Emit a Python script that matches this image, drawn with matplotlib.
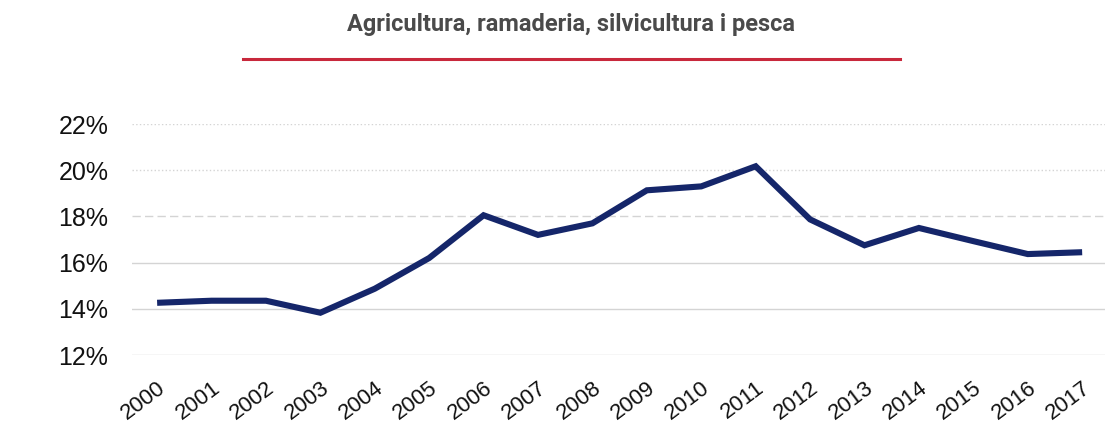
import matplotlib
matplotlib.use("Agg")
import matplotlib.pyplot as plt
from matplotlib import font_manager
from matplotlib.ticker import FuncFormatter

years = ["2000", "2001", "2002", "2003", "2004", "2005", "2006", "2007", "2008",
         "2009", "2010", "2011", "2012", "2013", "2014", "2015", "2016", "2017"]
values = [14.26, 14.35, 14.35, 13.83, 14.87, 16.2, 18.05, 17.2, 17.7,
          19.13, 19.3, 20.17, 17.87, 16.75, 17.5, 16.93, 16.37, 16.45]
yticks = [12, 14, 16, 18, 20, 22]
title = "Agricultura, ramaderia, silvicultura i pesca"

available = {f.name for f in font_manager.fontManager.ttflist}
title_font = "Liberation Sans Narrow" if "Liberation Sans Narrow" in available else "Roboto"
label_font = "Liberation Sans"

fig = plt.figure(figsize=(11.1, 4.3), dpi=100)
ax = fig.add_axes([0.119, 0.1744, 0.8765, 0.5372])

x = list(range(len(years)))
ax.plot(x, values, color="#15266a", linewidth=4.4, solid_capstyle="butt",
        solid_joinstyle="miter", zorder=3)

ax.set_xlim(-0.46, 17.42)
ax.set_ylim(12, 22)
ax.set_yticks(yticks)
ax.yaxis.set_major_formatter(FuncFormatter(lambda v, p: f"{v:.0f}%"))
ax.set_xticks(x)
ax.set_xticklabels(years, rotation=37, ha="right", rotation_mode="anchor",
                   family=label_font, fontsize=16, color="#111111")
for lab in ax.get_yticklabels():
    lab.set_family(label_font)
    lab.set_fontsize(18)
    lab.set_color("#111111")
ax.tick_params(axis="both", length=0)
ax.tick_params(axis="y", pad=17)
ax.tick_params(axis="x", pad=16)

styles = {22: ":", 20: ":", 18: (0, (6, 3)), 16: "-", 14: "-", 12: "-"}
for yv in yticks:
    ax.axhline(yv, color="#d4d4d4", linewidth=1.0, linestyle=styles[yv], zorder=1)

for s in ax.spines.values():
    s.set_visible(False)

fig.text(0.5145, 0.942, title, ha="center", va="center", fontsize=17,
         fontweight="bold", family=title_font, color="#4a4a4a")
fig.add_artist(plt.Line2D([243 / 1110, 900 / 1110], [1 - 59 / 430, 1 - 59 / 430],
                          color="#c8283c", linewidth=2.2, transform=fig.transFigure))

fig.savefig("out.png", dpi=100)
